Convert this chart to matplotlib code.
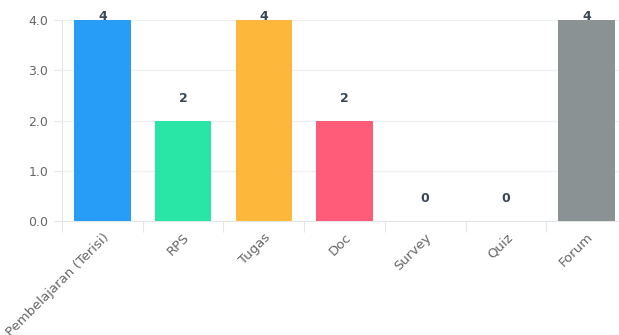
import matplotlib.pyplot as plt

labels = ["Pembelajaran (Terisi)", "RPS", "Tugas", "Doc", "Survey", "Quiz", "Forum"]
values = [4, 2, 4, 2, 0, 0, 4]
colors = ["#289df8", "#29e5a6", "#fdb83c", "#ff5c79", "#4bc0c0", "#9966ff", "#8a9293"]

fig = plt.figure(figsize=(6.19, 3.35), dpi=100)
# axes extends a bit past the right edge, like the clipped original
ax = fig.add_axes([62 / 619, (335 - 221) / 335, 565 / 619, 201 / 335])

x = list(range(len(values)))
ax.bar(x, values, width=0.7, color=colors, zorder=3)
ax.set_xlim(-0.5, len(values) - 0.5)
ax.set_ylim(0, 4)

ax.set_yticks([0, 1, 2, 3, 4])
ax.set_yticklabels(["0.0", "1.0", "2.0", "3.0", "4.0"])
ax.yaxis.grid(True, color="#eef0f4", linewidth=1, zorder=0)

# ticks sit between the categories
ax.set_xticks([i - 0.5 for i in x], minor=False)
ax.set_xticklabels([])
ax.set_xticks(x, minor=True)
ax.set_xticklabels(labels, minor=True, rotation=45, ha="right", va="top",
                   rotation_mode="anchor", color="#666666", fontsize=9.5)
ax.tick_params(axis="x", which="minor", length=0, pad=7)
ax.tick_params(axis="x", which="major", length=8, color="#e4e6ea")
ax.tick_params(axis="y", length=6, color="#e4e6ea", labelcolor="#666666", labelsize=9, pad=4)

for s in ["top", "right"]:
    ax.spines[s].set_visible(False)
for s in ["left", "bottom"]:
    ax.spines[s].set_color("#e4e6ea")

for i, v in enumerate(values):
    y = min(v + 0.44, 4.06)
    ax.text(i, y, str(v), ha="center", va="center", fontsize=9,
            fontweight="bold", color="#3b4656", clip_on=False, zorder=4)

fig.savefig("out.png", dpi=100)
